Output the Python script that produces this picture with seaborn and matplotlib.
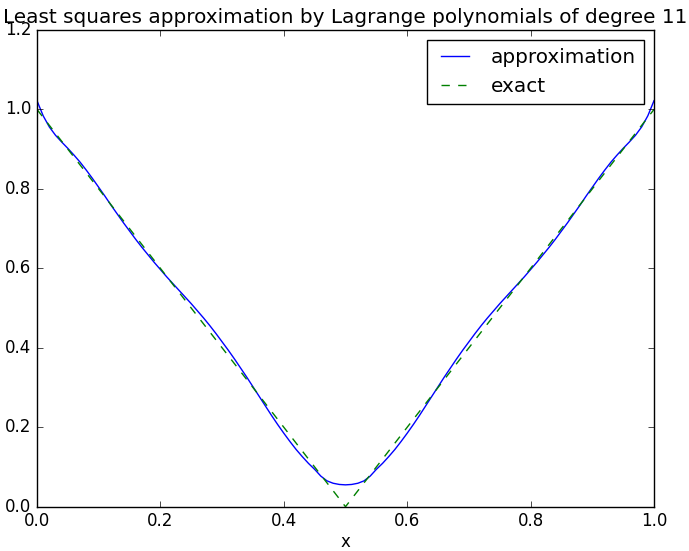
import seaborn as sns
import matplotlib
matplotlib.use("Agg")
import matplotlib.pyplot as plt

# approximation
x_approx = [i / 100 for i in range(101)]
y_approx = [
    1.022, 0.984, 0.956, 0.935, 0.918, 0.902, 0.885, 0.867, 0.847, 0.826,
    0.804, 0.782, 0.759, 0.737, 0.715, 0.694, 0.673, 0.653, 0.634, 0.615,
    0.597, 0.579, 0.562, 0.545, 0.528, 0.511, 0.493, 0.475, 0.456, 0.436,
    0.415, 0.394, 0.372, 0.349, 0.326, 0.302, 0.278, 0.254, 0.230, 0.207,
    0.185, 0.164, 0.144, 0.126, 0.109, 0.094, 0.077, 0.065, 0.059, 0.056,
    0.055,
    0.056, 0.059, 0.065, 0.077, 0.094, 0.109, 0.126, 0.144, 0.164, 0.185,
    0.207, 0.230, 0.254, 0.278, 0.302, 0.326, 0.349, 0.372, 0.394, 0.415,
    0.436, 0.456, 0.475, 0.493, 0.511, 0.528, 0.545, 0.562, 0.579, 0.597,
    0.615, 0.634, 0.653, 0.673, 0.694, 0.715, 0.737, 0.759, 0.782, 0.804,
    0.826, 0.847, 0.867, 0.885, 0.902, 0.918, 0.935, 0.956, 0.984, 1.022,
]

# exact |1 - 2x|
x_exact = [0.0, 0.5, 1.0]
y_exact = [1.0, 0.0, 1.0]

plt.style.use("classic")
plt.rcParams["font.family"] = ["DejaVu Sans"]
plt.rcParams["figure.facecolor"] = "white"
plt.rcParams["savefig.facecolor"] = "white"

fig = plt.figure(figsize=(6.89, 5.51), dpi=100)
ax = fig.add_axes([37 / 689, 44.3 / 551, 617 / 689, 476.7 / 551])

sns.lineplot(x=x_approx, y=y_approx, color="b", linewidth=1.0,
             label="approximation", ax=ax, sort=False)
sns.lineplot(x=x_exact, y=y_exact, color="g", linestyle="--", linewidth=1.0,
             label="exact", ax=ax, sort=False)

ax.set_xlim(0, 1)
ax.set_ylim(0, 1.2)
ax.set_xlabel("x", labelpad=2)
ax.set_title("Least squares approximation by Lagrange polynomials of degree 11",
             fontsize=14.4)
ax.legend(loc="upper right", fontsize=14.4)

fig.savefig("out.png", dpi=100)
